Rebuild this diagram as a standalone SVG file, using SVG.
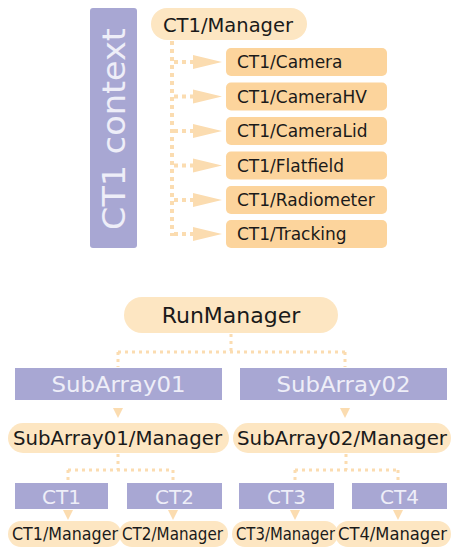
<svg xmlns="http://www.w3.org/2000/svg" width="451" height="547" viewBox="0 0 451 547">
  <style>
    .ctx { fill: #a8a7d3; }
    .pill { fill: #fde6c2; }
    .dev { fill: #fcd49c; }
    .grp { fill: #a8a7d3; }
    .dark { font-family: "DejaVu Sans", Verdana, sans-serif; fill: #1a1a1a; }
    .light { font-family: "DejaVu Sans", Verdana, sans-serif; fill: #eeeef8; }
    .link { fill: none; stroke: #fbdcb0; stroke-linecap: butt; }
    .big { stroke-width: 4; stroke-dasharray: 4 4; }
    .small { stroke-width: 3; stroke-dasharray: 3 4; }
    .head { fill: #fbdcb0; }
  </style>

  <!-- connectors -->
  <g id="connectors">
    <!-- CT1 manager to its devices -->
    <path class="link big" d="M172 41 V236"/>
    <path class="link big" d="M174 62 H193 M174 96.5 H193 M174 131 H193 M174 165.5 H193 M174 200 H193 M174 234 H193"/>
    <path class="head" d="M193 55 L222 62 L193 69 Z"/>
    <path class="head" d="M193 89.5 L222 96.5 L193 103.5 Z"/>
    <path class="head" d="M193 124 L222 131 L193 138 Z"/>
    <path class="head" d="M193 158.5 L222 165.5 L193 172.5 Z"/>
    <path class="head" d="M193 193 L222 200 L193 207 Z"/>
    <path class="head" d="M193 227 L222 234 L193 241 Z"/>

    <!-- RunManager to sub-arrays -->
    <path class="link small" d="M231 334 V352 M118 352 H345 M118 352 V367 M345 352 V367"/>
    <!-- sub-arrays to their managers -->
    <path class="head" d="M113 408 L123 408 L118 418 Z"/>
    <path class="head" d="M340 408 L350 408 L345 418 Z"/>
    <!-- sub-array managers to telescopes -->
    <path class="link small" d="M118 454 V470 M68 470 H173 M68 470 V482 M173 470 V482"/>
    <path class="link small" d="M346 454 V470 M295 470 H398 M295 470 V482 M398 470 V482"/>
    <!-- telescopes to their managers -->
    <path class="head" d="M63 510 L73 510 L68 520 Z"/>
    <path class="head" d="M168 510 L178 510 L173 520 Z"/>
    <path class="head" d="M290 510 L300 510 L295 520 Z"/>
    <path class="head" d="M393 510 L403 510 L398 520 Z"/>
  </g>

  <!-- CT1 context -->
  <g id="ct1-context">
    <rect class="ctx" x="90" y="8" width="47" height="240" rx="3"/>
    <text class="light" transform="translate(125 129) rotate(-90)" text-anchor="middle" font-size="32" textLength="202" lengthAdjust="spacingAndGlyphs">CT1 context</text>
  </g>

  <g id="ct1-manager-top">
    <rect class="pill" x="151" y="8" width="156" height="32" rx="16"/>
    <text class="dark" x="163" y="32" font-size="20" textLength="130" lengthAdjust="spacingAndGlyphs">CT1/Manager</text>
  </g>

  <g id="ct1-camera">
    <rect class="dev" x="226" y="48" width="161" height="28" rx="5"/>
    <text class="dark" x="237" y="68" font-size="17">CT1/Camera</text>
  </g>
  <g id="ct1-camerahv">
    <rect class="dev" x="226" y="82.5" width="161" height="28" rx="5"/>
    <text class="dark" x="237" y="102.5" font-size="17">CT1/CameraHV</text>
  </g>
  <g id="ct1-cameralid">
    <rect class="dev" x="226" y="117" width="161" height="28" rx="5"/>
    <text class="dark" x="237" y="137" font-size="17">CT1/CameraLid</text>
  </g>
  <g id="ct1-flatfield">
    <rect class="dev" x="226" y="151.5" width="161" height="28" rx="5"/>
    <text class="dark" x="237" y="171.5" font-size="17">CT1/Flatfield</text>
  </g>
  <g id="ct1-radiometer">
    <rect class="dev" x="226" y="186" width="161" height="28" rx="5"/>
    <text class="dark" x="237" y="206" font-size="17">CT1/Radiometer</text>
  </g>
  <g id="ct1-tracking">
    <rect class="dev" x="226" y="220" width="161" height="28" rx="5"/>
    <text class="dark" x="237" y="240" font-size="17">CT1/Tracking</text>
  </g>

  <!-- run hierarchy -->
  <g id="runmanager">
    <rect class="pill" x="124" y="297" width="214" height="36" rx="18"/>
    <text class="dark" x="231" y="323" font-size="22" text-anchor="middle">RunManager</text>
  </g>

  <g id="subarray01">
    <rect class="grp" x="15" y="368" width="207" height="32"/>
    <text class="light" x="118.5" y="392" font-size="22" text-anchor="middle" textLength="134" lengthAdjust="spacingAndGlyphs">SubArray01</text>
  </g>
  <g id="subarray02">
    <rect class="grp" x="240" y="368" width="207" height="32"/>
    <text class="light" x="343.5" y="392" font-size="22" text-anchor="middle" textLength="134" lengthAdjust="spacingAndGlyphs">SubArray02</text>
  </g>

  <g id="subarray01-manager">
    <rect class="pill" x="8" y="423" width="221" height="30" rx="15"/>
    <text class="dark" x="13" y="445" font-size="20" textLength="209" lengthAdjust="spacingAndGlyphs">SubArray01/Manager</text>
  </g>
  <g id="subarray02-manager">
    <rect class="pill" x="233" y="423" width="218" height="30" rx="15"/>
    <text class="dark" x="237" y="445" font-size="20" textLength="210" lengthAdjust="spacingAndGlyphs">SubArray02/Manager</text>
  </g>

  <g id="ct1">
    <rect class="grp" x="15" y="483" width="93" height="26"/>
    <text class="light" x="61.5" y="503.5" font-size="20" text-anchor="middle">CT1</text>
  </g>
  <g id="ct2">
    <rect class="grp" x="127" y="483" width="95" height="26"/>
    <text class="light" x="174.5" y="503.5" font-size="20" text-anchor="middle">CT2</text>
  </g>
  <g id="ct3">
    <rect class="grp" x="239" y="483" width="95" height="26"/>
    <text class="light" x="286.5" y="503.5" font-size="20" text-anchor="middle">CT3</text>
  </g>
  <g id="ct4">
    <rect class="grp" x="352" y="483" width="95" height="26"/>
    <text class="light" x="399.5" y="503.5" font-size="20" text-anchor="middle">CT4</text>
  </g>

  <g id="ct1-manager">
    <rect class="pill" x="8" y="521" width="113" height="26" rx="13"/>
    <text class="dark" x="12" y="540" font-size="17" textLength="106" lengthAdjust="spacingAndGlyphs">CT1/Manager</text>
  </g>
  <g id="ct2-manager">
    <rect class="pill" x="119" y="521" width="109" height="26" rx="13"/>
    <text class="dark" x="122" y="540" font-size="17" textLength="101" lengthAdjust="spacingAndGlyphs">CT2/Manager</text>
  </g>
  <g id="ct3-manager">
    <rect class="pill" x="232" y="521" width="106" height="26" rx="13"/>
    <text class="dark" x="236" y="540" font-size="17" textLength="99" lengthAdjust="spacingAndGlyphs">CT3/Manager</text>
  </g>
  <g id="ct4-manager">
    <rect class="pill" x="335" y="521" width="116" height="26" rx="13"/>
    <text class="dark" x="338" y="540" font-size="17" textLength="109" lengthAdjust="spacingAndGlyphs">CT4/Manager</text>
  </g>
</svg>
